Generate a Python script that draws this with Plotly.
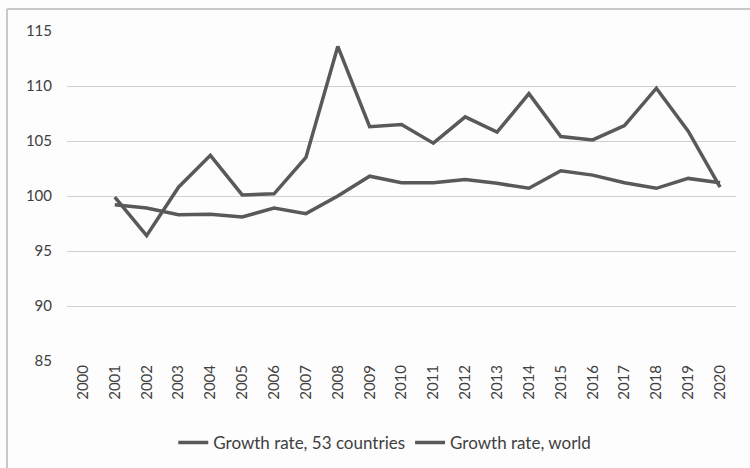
import plotly.graph_objects as go

# Year categories (2000 has no observation)
years = [str(y) for y in range(2000, 2021)]

growth_53 = [None, 99.9, 96.4, 100.8, 103.7, 100.1, 100.2, 103.5, 113.6, 106.3,
             106.5, 104.8, 107.2, 105.8, 109.3, 105.4, 105.1, 106.4, 109.8, 105.9, 100.8]
growth_world = [None, 99.2, 98.9, 98.3, 98.35, 98.1, 98.9, 98.4, 100.0, 101.8,
                101.2, 101.2, 101.5, 101.15, 100.7, 102.3, 101.9, 101.2, 100.7, 101.6, 101.2]

y_ticks = [85, 90, 95, 100, 105, 110, 115]

LINE = "#595959"
TEXT = "#404040"
FONT = "Lato"

fig = go.Figure()
fig.add_trace(go.Scatter(x=years, y=growth_53, mode="lines", name="Growth rate, 53 countries",
                         line=dict(color=LINE, width=3.5), connectgaps=False))
fig.add_trace(go.Scatter(x=years, y=growth_world, mode="lines", name="Growth rate, world",
                         line=dict(color=LINE, width=3.5), connectgaps=False))

L, R, T, B = 67, 14, 31, 107
W, H = 750, 468
pw, ph = W - L - R, H - T - B

# outer chart frame (left and top edges)
fx0 = (7 - L) / pw
fy1 = (H - B - 9) / ph
fig.add_shape(type="line", xref="paper", yref="paper", x0=fx0, x1=fx0, y0=-B / ph, y1=fy1,
              line=dict(color="#c8c8c8", width=2))
fig.add_shape(type="line", xref="paper", yref="paper", x0=fx0, x1=(W - L) / pw, y0=fy1, y1=fy1,
              line=dict(color="#c8c8c8", width=2))

fig.update_layout(
    width=W, height=H,
    margin=dict(l=L, r=R, t=T, b=B, pad=0, autoexpand=False),
    paper_bgcolor="#fdfdfd", plot_bgcolor="#fdfdfd",
    font=dict(family=FONT, size=15, color=TEXT),
    showlegend=True,
    legend=dict(orientation="h", x=0.475, xanchor="center", y=-0.248, yanchor="middle",
                font=dict(size=17, color=TEXT), bgcolor="rgba(0,0,0,0)"),
    xaxis=dict(type="category", categoryorder="array", categoryarray=years,
               tickangle=-90, showgrid=False, showline=False, ticks="", automargin=False,
               tickfont=dict(size=15, color=TEXT), range=[-0.5, 20.5]),
    yaxis=dict(range=[85, 115], tickvals=y_ticks, showgrid=True, gridcolor="#d0d0d0",
               gridwidth=1, zeroline=False, showline=False, ticks="", automargin=False,
               tickfont=dict(size=15, color=TEXT), ticklabelstandoff=14),
)

fig.write_html("out.html")
